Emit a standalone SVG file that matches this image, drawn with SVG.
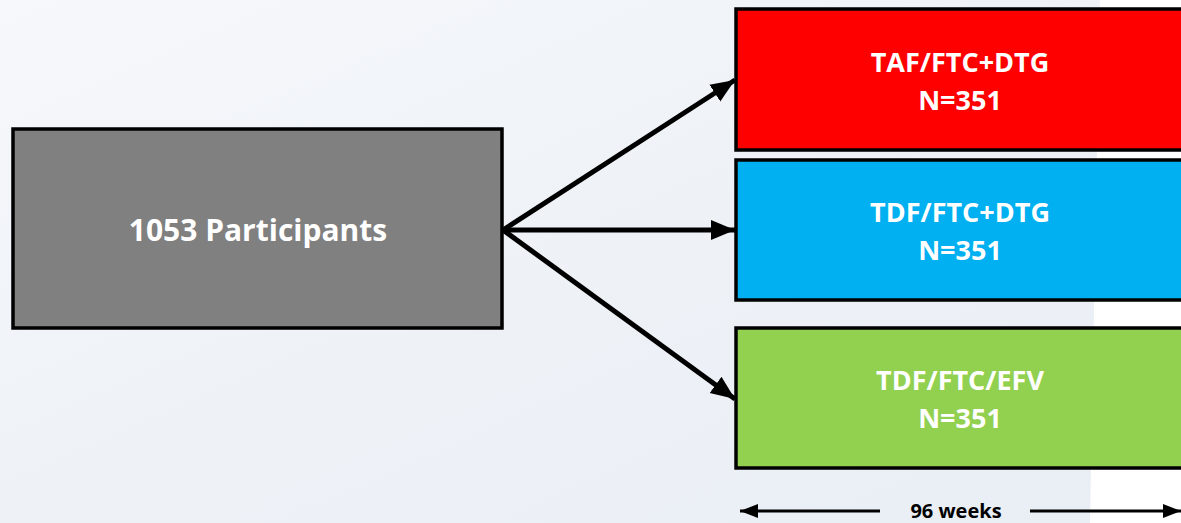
<svg xmlns="http://www.w3.org/2000/svg" width="1181" height="523" viewBox="0 0 1181 523">
<defs>
<linearGradient id="bg" x1="0" y1="0" x2="1" y2="1">
<stop offset="0" stop-color="#f6f8fb"/>
<stop offset="0.5" stop-color="#eef2f7"/>
<stop offset="1" stop-color="#e9eef5"/>
</linearGradient>
<marker id="ah" markerUnits="userSpaceOnUse" markerWidth="26" markerHeight="22" refX="24" refY="11" orient="auto">
<path d="M0,1 L24,11 L0,21 Z" fill="#000"/>
</marker>
<marker id="ahs" markerUnits="userSpaceOnUse" markerWidth="20" markerHeight="16" refX="18" refY="8" orient="auto-start-reverse">
<path d="M0,1 L18,8 L0,15 Z" fill="#000"/>
</marker>
</defs>
<style>
.box{stroke:#000;stroke-width:3.5}
.t{font-family:"Open Sans","Liberation Sans",sans-serif;font-weight:bold;fill:#fff;text-anchor:middle}
.c{stroke:#000;stroke-width:5;fill:none}
</style>
<rect width="1181" height="523" fill="url(#bg)"/>
<polygon points="1100,0 1181,0 1181,523 1090,523" fill="#ffffff"/>
<g id="participants">
<rect class="box" x="13" y="129" width="489" height="199" fill="#808080"/>
<text class="t" x="258" y="241" font-size="30">1053 Participants</text>
</g>
<g id="taf">
<rect class="box" x="736" y="9" width="460" height="141" fill="#ff0000"/>
<text class="t" x="960" y="72" font-size="27">TAF/FTC+DTG</text>
<text class="t" x="960" y="110" font-size="27">N=351</text>
</g>
<g id="tdf-dtg">
<rect class="box" x="736" y="160" width="460" height="140" fill="#00b0f0"/>
<text class="t" x="960" y="222" font-size="27">TDF/FTC+DTG</text>
<text class="t" x="960" y="260" font-size="27">N=351</text>
</g>
<g id="tdf-efv">
<rect class="box" x="736" y="328" width="460" height="140" fill="#92d050"/>
<text class="t" x="960" y="390" font-size="27">TDF/FTC/EFV</text>
<text class="t" x="960" y="428" font-size="27">N=351</text>
</g>
<g id="connectors">
<line class="c" x1="503" y1="230" x2="735" y2="80" marker-end="url(#ah)"/>
<line class="c" x1="503" y1="230" x2="735" y2="230" marker-end="url(#ah)"/>
<line class="c" x1="503" y1="230" x2="735" y2="399" marker-end="url(#ah)"/>
<line x1="740" y1="511" x2="880" y2="511" stroke="#000" stroke-width="3" marker-start="url(#ahs)"/>
<line x1="1030" y1="511" x2="1181" y2="511" stroke="#000" stroke-width="3" marker-end="url(#ahs)"/>
</g>
<text x="956" y="518" font-family="Open Sans, Liberation Sans, sans-serif" font-weight="bold" font-size="20" fill="#000" text-anchor="middle">96 weeks</text>
</svg>
